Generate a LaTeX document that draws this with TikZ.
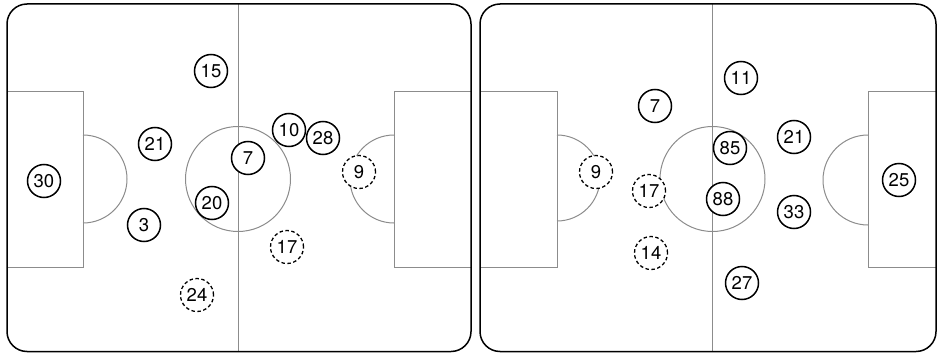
\documentclass[tikz,border=0pt]{standalone}
\usepackage{fontspec}
\setmainfont{TeX Gyre Heros}
\usepackage{tikz}

\tikzset{
    pitchline/.style = {line width=1pt, black!45},
    border/.style = {line width=1.5pt, rounded corners=20pt},
    player/.style = {circle, draw, line width=1.5pt, fill=white, minimum size=33pt, inner sep=0pt, font=\fontsize{18.5}{18.5}\selectfont},
    sub/.style = {player, line width=1.3pt, dash pattern=on 3.5pt off 2.5pt}
}

\begin{document}
\begin{tikzpicture}[x=1pt, y=-1pt]
        \useasboundingbox (0,0) rectangle (937,353);
        %Left pitch
        \draw[pitchline] (238,4) -- (238,351.5);
        \draw[pitchline] (238,179) circle (52.5);
        \draw[pitchline] (7,91) -- (83,91) -- (83,267) -- (7,267);
        \draw[pitchline] (83,135) arc[start angle=-90, end angle=90, radius=44];
        \draw[pitchline] (471,91) -- (394,91) -- (394,267) -- (471,267);
        \draw[pitchline] (394,135) arc[start angle=270, end angle=90, radius=44];
        \draw[border] (7,4) rectangle (471,351.5);
        % Right pitch
        \draw[pitchline] (712.5,4) -- (712.5,351.5);
        \draw[pitchline] (712.5,179) circle (52.5);
        \draw[pitchline] (480,91) -- (557,91) -- (557,267) -- (480,267);
        \draw[pitchline] (557,135) arc[start angle=-90, end angle=90, radius=43];
        \draw[pitchline] (936,91) -- (868,91) -- (868,267) -- (936,267);
        \draw[pitchline] (868,135) arc[start angle=270, end angle=90, radius=45];
        \draw[border] (480,4) rectangle (936,351.5);
        % Left team
        \node[player] (l15) at (211,71) {15};
        \node[player] (l21) at (155,144) {21};
        \node[player] (l30) at (44,181) {30};
        \node[player] (l3) at (144,225) {3};
        \node[player] (l20) at (212,203) {20};
        \node[player] (l7) at (248,158) {7};
        \node[player] (l10) at (289,130) {10};
        \node[player] (l28) at (323,138) {28};
        % Left subs
        \node[sub] (l9) at (359,172) {9};
        \node[sub] (l17) at (287,247) {17};
        \node[sub] (l24) at (197,295) {24};
        % Right team
        \node[player] (r11) at (741,78) {11};
        \node[player] (r7) at (655,106) {7};
        \node[player] (r85) at (730,148) {85};
        \node[player] (r21) at (794,137) {21};
        \node[player] (r88) at (723,199) {88};
        \node[player] (r33) at (794,212) {33};
        \node[player] (r25) at (899,180) {25};
        \node[player] (r27) at (742,283) {27};
        % Right subs
        \node[sub] (r9) at (596,172) {9};
        \node[sub] (r17) at (649,191) {17};
        \node[sub] (r14) at (651,253) {14};
    \end{tikzpicture}
\end{document}
